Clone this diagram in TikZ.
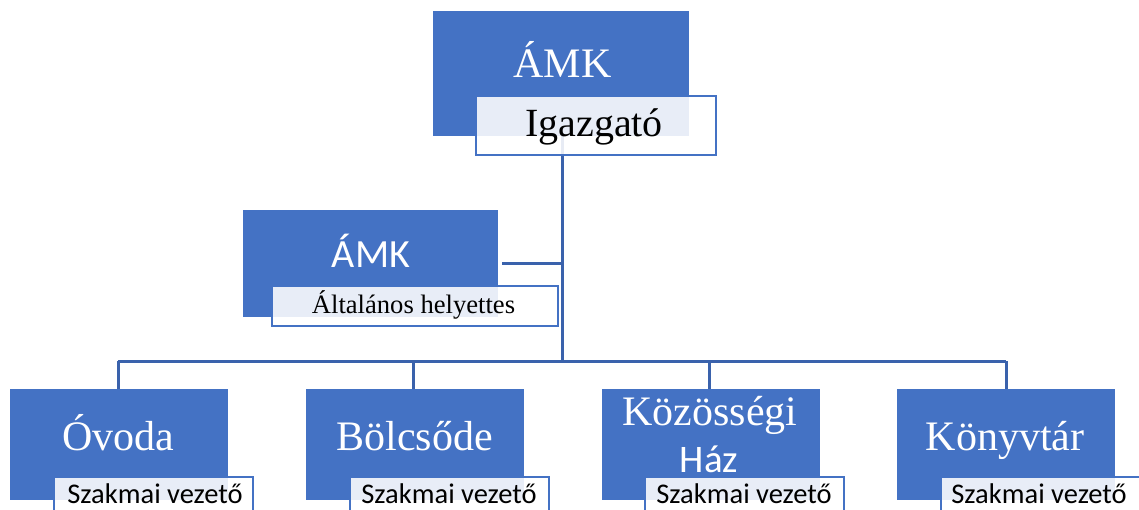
\documentclass[tikz,border=0pt]{standalone}
\usepackage{fontspec}
\setmainfont{Liberation Serif}
\newfontfamily\calibri{Carlito}
\definecolor{boxblue}{HTML}{4472C4}
\definecolor{lineblue}{HTML}{3A62AC}
\tikzset{
  bluebox/.style={rectangle, fill=boxblue, inner sep=0pt, anchor=north west},
  subbox/.style={rectangle, fill=white, fill opacity=0.88, draw=boxblue, draw opacity=1, line width=2pt, inner sep=0pt, anchor=north west},
  conn/.style={draw=lineblue, line width=3pt},
  titletxt/.style={anchor=base, inner sep=0pt, text=white},
  subtxt/.style={anchor=base, inner sep=0pt, text=black},
}
\begin{document}
\begin{tikzpicture}[x=1pt,y=-1pt]
\useasboundingbox (0,0) rectangle (1139,510);
% coordinates for connectors
\coordinate (hub) at (562,361);
\coordinate (topdrop) at (562,136);
\coordinate (midjoin) at (562,264);
\coordinate (midstart) at (502,264);
\coordinate (busL) at (118,361);
\coordinate (busB) at (413,361);
\coordinate (busK) at (709,361);
\coordinate (busR) at (1006,361);
\coordinate (endL) at (118,389);
\coordinate (endB) at (413,389);
\coordinate (endK) at (709,389);
\coordinate (endR) at (1006,389);
% connectors (behind boxes)
\path[conn] (topdrop) -- (hub);
\path[conn] (midstart) -- (midjoin);
\path[conn] (busL) -- (busR);
\path[conn] (busL) -- (endL);
\path[conn] (busB) -- (endB);
\path[conn] (busK) -- (endK);
\path[conn] (busR) -- (endR);
% top
\node[bluebox, minimum width=256pt, minimum height=125pt] (top) at (433,11) {};
\node[subbox, minimum width=240pt, minimum height=59pt] (topsub) at (475,95) {};
\node[titletxt, font=\fontsize{42}{48}\selectfont] (topT) at (562.5,78) {ÁMK};
\node[subtxt, font=\fontsize{40}{46}\selectfont] (topS) at (594,137) {Igazgató};
% middle
\node[bluebox, minimum width=255pt, minimum height=107pt] (mid) at (243,210) {};
\node[subbox, minimum width=286pt, minimum height=40pt] (midsub) at (271,285) {};
\node[titletxt, font=\calibri\fontsize{40}{46}\selectfont] (midT) at (371,268) {ÁMK};
\node[subtxt, font=\fontsize{26.6}{30}\selectfont] (midS) at (413.5,313) {Általános helyettes};
% bottom row
\node[bluebox, minimum width=218pt, minimum height=111pt] (ovoda) at (10,389) {};
\node[bluebox, minimum width=218pt, minimum height=111pt] (bolcs) at (306,389) {};
\node[bluebox, minimum width=218pt, minimum height=111pt] (kozos) at (602,389) {};
\node[bluebox, minimum width=218pt, minimum height=111pt] (konyv) at (897,389) {};
\node[subbox, minimum width=199pt, minimum height=60pt] (ovodasub) at (53,476) {};
\node[subbox, minimum width=199pt, minimum height=60pt] (bolcssub) at (349,476) {};
\node[subbox, minimum width=199pt, minimum height=60pt] (kozossub) at (644,476) {};
\node[subbox, minimum width=199pt, minimum height=60pt] (konyvsub) at (940,476) {};
\node[titletxt, font=\fontsize{42}{48}\selectfont] (ovodaT) at (118,450) {Óvoda};
\node[titletxt, font=\fontsize{42}{48}\selectfont] (bolcsT) at (414.5,450) {Bölcsőde};
\node[titletxt, font=\fontsize{42}{48}\selectfont] (kozosT) at (710,425) {Közösségi};
\node[titletxt, font=\calibri\fontsize{39}{44}\selectfont] (kozosT2) at (709,472) {Ház};
\node[titletxt, font=\fontsize{42}{48}\selectfont] (konyvT) at (1005,450) {Könyvtár};
\node[subtxt, font=\calibri\fontsize{28.5}{32}\selectfont] (ovodaS) at (155,503) {Szakmai vezető};
\node[subtxt, font=\calibri\fontsize{28.5}{32}\selectfont] (bolcsS) at (449,503) {Szakmai vezető};
\node[subtxt, font=\calibri\fontsize{28.5}{32}\selectfont] (kozosS) at (744,503) {Szakmai vezető};
\node[subtxt, font=\calibri\fontsize{28.5}{32}\selectfont] (konyvS) at (1039,503) {Szakmai vezető};
\end{tikzpicture}
\end{document}
